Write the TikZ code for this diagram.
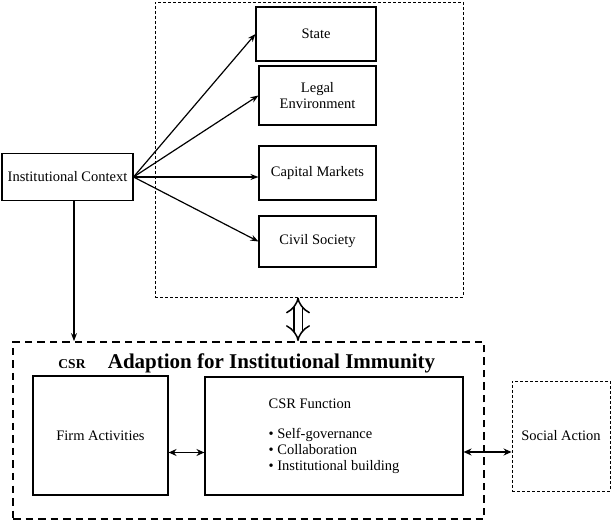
\documentclass[tikz,border=0pt]{standalone}
\usepackage{fontspec}
\setmainfont{Liberation Serif}
\usetikzlibrary{arrows.meta}
\tikzset{
  box/.style={draw,line width=1.1pt,inner sep=0pt,align=center,font=\fontsize{14.5}{16}\selectfont},
  thindash/.style={draw,line width=0.9pt,inner sep=0pt,dash pattern=on 3pt off 2pt},
  bigdash/.style={draw,line width=1.8pt,inner sep=0pt,dash pattern=on 7.5pt off 5pt},
  link/.style={line width=1.2pt,->,>={Stealth[length=8pt,width=6pt]}},
  twoway/.style={line width=1.6pt,{Stealth[length=8pt,width=7pt]}-{Stealth[length=8pt,width=7pt]}}
}
\begin{document}
\begin{tikzpicture}[x=1pt,y=-1pt]
    \useasboundingbox (0,0) rectangle (611,521);
    % institutions
    \node[thindash,minimum width=308,minimum height=295] (env) at (309,149.5) {};
    \node[box,minimum width=131,minimum height=47] (ctx) at (67.5,177) {Institutional Context};
    \node[box,minimum width=120,minimum height=54] (state) at (316,34) {State};
    \node[box,minimum width=117,minimum height=59] (legal) at (317.5,95.5) {Legal\\Environment};
    \node[box,minimum width=117,minimum height=54] (capital) at (317.5,173) {Capital Markets};
    \node[box,minimum width=117,minimum height=51] (civil) at (317.5,241.5) {Civil Society};
    \draw[link] (ctx.east) -- (state.west);
    \draw[link] (ctx.east) -- (legal.west);
    \draw[link] (ctx.east) -- (ctx.east -| capital.west);
    \draw[link] (ctx.east) -- (civil.west);
    % firm side
    \node[bigdash,minimum width=471,minimum height=177] (adapt) at (248.5,430.5) {};
    \node[font=\bfseries\fontsize{13.5}{16}\selectfont] (csr) at (72,364) {CSR};
    \node[font=\bfseries\fontsize{21}{24}\selectfont] (title) at (271.5,363) {Adaption for Institutional Immunity};
    \node[box,minimum width=135,minimum height=119] (firm) at (100.5,435.5) {Firm Activities};
    \node[box,minimum width=258,minimum height=118,align=left] (func) at (334,436)
      {CSR Function\\[14pt]\textbullet\ Self-governance\\\textbullet\ Collaboration\\\textbullet\ Institutional building};
    \node[thindash,minimum width=98,minimum height=110,font=\fontsize{14.5}{16}\selectfont] (social) at (561,436) {Social Action};
    \coordinate (ca) at ([xshift=6.5pt]ctx.south);
    \draw[link] (ca) -- (ca |- adapt.north);
    \coordinate (dbl) at (298,316);
    \draw[line width=1.5pt,double distance=7pt,{Implies[length=9pt,width=22pt]}-{Implies[length=9pt,width=22pt]}] (dbl |- env.south) -- (dbl |- adapt.north);
    \coordinate (fa) at ([yshift=-17pt]firm.east);
    \draw[twoway] (fa) -- (fa -| func.west);
    \coordinate (fs) at ([yshift=-16pt]func.east);
    \draw[twoway] (fs) -- (fs -| social.west);
\end{tikzpicture}
\end{document}
